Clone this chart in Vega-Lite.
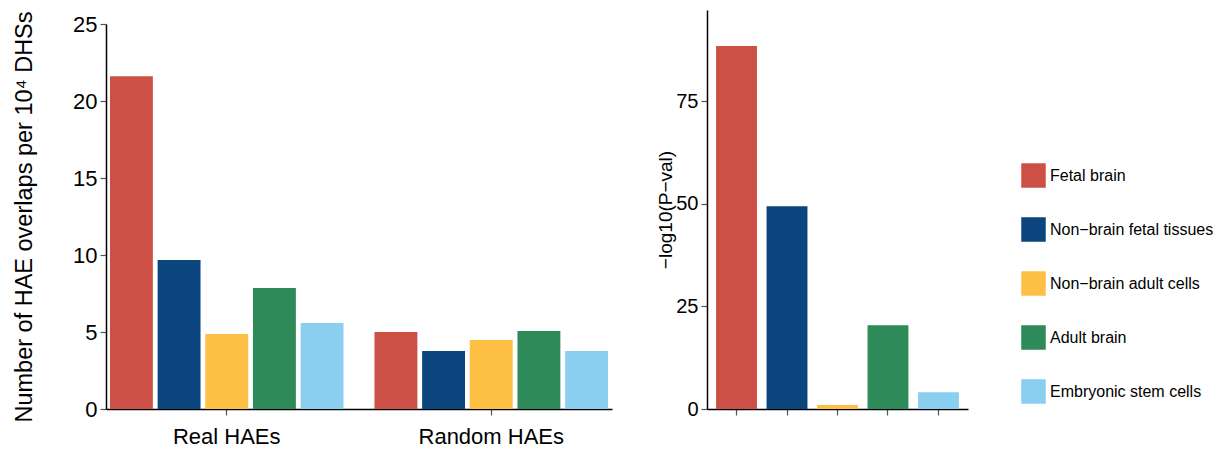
{
  "$schema": "https://vega.github.io/schema/vega-lite/v6.json",
  "background": "white",
  "padding": {"left": 12, "top": 10, "right": 5, "bottom": 0},
  "config": {
    "view": {"stroke": null},
    "font": "Liberation Sans",
    "axis": {"domainColor": "black", "domainWidth": 1.5, "tickColor": "#555", "tickWidth": 1.2, "tickSize": 6, "labelColor": "black", "titleColor": "black", "grid": false, "titleFontWeight": "normal", "labelPadding": 3}
  },
  "datasets": {
    "counts": [
      {"group": "Real HAEs", "cell": "Fetal brain", "value": 21.6},
      {"group": "Real HAEs", "cell": "Non−brain fetal tissues", "value": 9.67},
      {"group": "Real HAEs", "cell": "Non−brain adult cells", "value": 4.87},
      {"group": "Real HAEs", "cell": "Adult brain", "value": 7.86},
      {"group": "Real HAEs", "cell": "Embryonic stem cells", "value": 5.58},
      {"group": "Random HAEs", "cell": "Fetal brain", "value": 5.0},
      {"group": "Random HAEs", "cell": "Non−brain fetal tissues", "value": 3.77},
      {"group": "Random HAEs", "cell": "Non−brain adult cells", "value": 4.48},
      {"group": "Random HAEs", "cell": "Adult brain", "value": 5.06},
      {"group": "Random HAEs", "cell": "Embryonic stem cells", "value": 3.77}
    ],
    "pvals": [
      {"cell": "Fetal brain", "value": 88.4},
      {"cell": "Non−brain fetal tissues", "value": 49.4},
      {"cell": "Non−brain adult cells", "value": 1.0},
      {"cell": "Adult brain", "value": 20.4},
      {"cell": "Embryonic stem cells", "value": 4.1}
    ]
  },
  "hconcat": [
    {
      "data": {"name": "counts"},
      "width": 506,
      "height": 399,
      "mark": "bar",
      "encoding": {
        "x": {"field": "group", "type": "nominal", "sort": ["Real HAEs", "Random HAEs"],
              "scale": {"paddingInner": 0.117, "paddingOuter": 0.015},
              "axis": {"title": null, "labelAngle": 0, "labelFontSize": 22, "labelPadding": 11}},
        "xOffset": {"field": "cell", "type": "nominal",
                    "sort": ["Fetal brain", "Non−brain fetal tissues", "Non−brain adult cells", "Adult brain", "Embryonic stem cells"],
                    "scale": {"paddingInner": 0.1, "paddingOuter": 0}},
        "y": {"field": "value", "type": "quantitative", "scale": {"domain": [0, 25], "nice": false, "range": [399, 14]},
              "axis": {"values": [0, 5, 10, 15, 20, 25], "title": "Number of HAE overlaps per 10⁴ DHSs", "titleFontSize": 23.5, "labelFontSize": 22, "titlePadding": 36}},
        "color": {"field": "cell", "type": "nominal",
                  "sort": ["Fetal brain", "Non−brain fetal tissues", "Non−brain adult cells", "Adult brain", "Embryonic stem cells"],
                  "scale": {"domain": ["Fetal brain", "Non−brain fetal tissues", "Non−brain adult cells", "Adult brain", "Embryonic stem cells"],
                            "range": ["#CD5046", "#0B457D", "#FEBF45", "#2E8A58", "#8ACFEF"]},
                  "legend": null}
      }
    },
    {
      "data": {"name": "pvals"},
      "width": 261,
      "height": 399,
      "mark": "bar",
      "encoding": {
        "x": {"field": "cell", "type": "nominal",
              "sort": ["Fetal brain", "Non−brain fetal tissues", "Non−brain adult cells", "Adult brain", "Embryonic stem cells"],
              "scale": {"paddingInner": 0.19, "paddingOuter": 0.18},
              "axis": {"title": null, "labels": false}},
        "y": {"field": "value", "type": "quantitative", "scale": {"domain": [0, 97.2], "nice": false},
              "axis": {"values": [0, 25, 50, 75], "title": "−log10(P−val)", "titleFontSize": 19, "labelFontSize": 20, "titlePadding": 0}},
        "color": {"field": "cell", "type": "nominal",
                  "sort": ["Fetal brain", "Non−brain fetal tissues", "Non−brain adult cells", "Adult brain", "Embryonic stem cells"],
                  "scale": {"domain": ["Fetal brain", "Non−brain fetal tissues", "Non−brain adult cells", "Adult brain", "Embryonic stem cells"],
                            "range": ["#CD5046", "#0B457D", "#FEBF45", "#2E8A58", "#8ACFEF"]},
                  "legend": {"orient": "none", "legendX": 314, "legendY": 153, "title": null,
                             "symbolType": "square", "symbolSize": 600, "symbolStrokeWidth": 0, "symbolOpacity": 1,
                             "rowPadding": 29, "labelFontSize": 16, "labelOffset": 4, "labelLimit": 300, "labelColor": "black"}}
      }
    }
  ],
  "spacing": 44,
  "resolve": {"legend": {"color": "independent"}}
}
